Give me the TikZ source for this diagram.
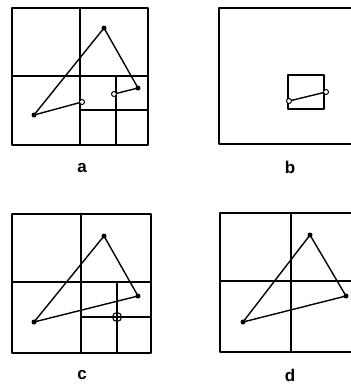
\documentclass[tikz,border=0pt]{standalone}
\usepackage{fontspec}
\setmainfont{Liberation Sans}
\begin{document}
\begin{tikzpicture}[x=1pt,y=-1pt,
  ln/.style={line width=1.4pt, line join=round},
  dot/.style={circle, fill=black, inner sep=0pt, minimum size=5pt},
  odot/.style={circle, draw=black, fill=white, line width=1pt, inner sep=0pt, minimum size=5pt},
  xdot/.style={circle, draw=black, line width=1.1pt, inner sep=0pt, minimum size=9pt},
  lab/.style={font=\bfseries\fontsize{17}{17}\selectfont}]
\clip (0,0) rectangle (351,386);
\useasboundingbox (0,0) rectangle (351,386);
% ---------- panel a ----------
\draw[ln] (12,8) rectangle (148,145);
\draw[ln] (80,8) -- (80,145);
\draw[ln] (12,76) -- (148,76);
\draw[ln] (80,110) -- (148,110);
\draw[ln] (116,76) -- (116,145);
\node[dot] (aT) at (104,28) {};
\node[dot] (aR) at (138,88) {};
\node[dot] (aL) at (34,115) {};
\coordinate (aO1) at (82,102);
\coordinate (aO2) at (114,94);
\draw[ln] (aL.center) -- (aT.center) -- (aR.center);
\draw[ln] (aR.center) -- (aO2);
\draw[ln] (aL.center) -- (aO1);
\node[odot] (aC1) at (aO1) {};
\node[odot] (aC2) at (aO2) {};
\node[lab] (la) at (82,168) {a};
% ---------- panel b ----------
\draw[ln] (219,8) rectangle (357,144);
\draw[ln] (288,75) rectangle (324,109);
\coordinate (bO1) at (289,101);
\coordinate (bO2) at (326,92);
\draw[ln] (bO1) -- (bO2);
\node[odot] (bC1) at (bO1) {};
\node[odot] (bC2) at (bO2) {};
\node[lab] (lb) at (290,167) {b};
% ---------- panel c ----------
\draw[ln] (12,214) rectangle (151,353);
\draw[ln] (81,214) -- (81,353);
\draw[ln] (12,282) -- (151,282);
\draw[ln] (117,282) -- (117,353);
\draw[ln] (81,317) -- (151,317);
\node[dot] (cT) at (104,236) {};
\node[dot] (cR) at (138,296) {};
\node[dot] (cL) at (34,322) {};
\draw[ln] (cL.center) -- (cT.center) -- (cR.center) -- cycle;
\node[xdot] (cX) at (117,317) {};
\node[lab] (lc) at (82,375) {c};
% ---------- panel d ----------
\draw[ln] (220,213) rectangle (359,352);
\draw[ln] (291,213) -- (291,352);
\draw[ln] (220,281) -- (359,281);
\node[dot] (dT) at (310,235) {};
\node[dot] (dR) at (346,296) {};
\node[dot] (dL) at (243,322) {};
\draw[ln] (dL.center) -- (dT.center) -- (dR.center) -- cycle;
\node[lab] (ld) at (290,375) {d};
\end{tikzpicture}
\end{document}
